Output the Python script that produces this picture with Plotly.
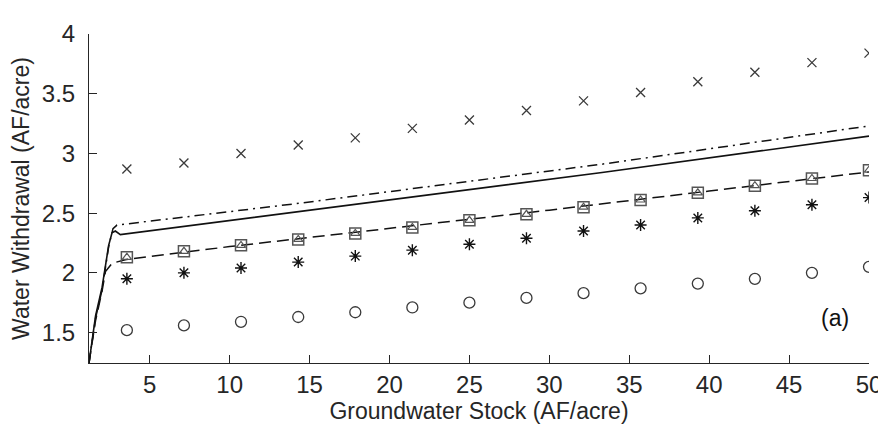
import plotly.graph_objects as go

# ---- data ----
stock = [3.57, 7.14, 10.71, 14.29, 17.86, 21.43, 25.0, 28.57, 32.14, 35.71, 39.29, 42.86, 46.43, 50.0]
cross_vals = [2.87, 2.92, 3.00, 3.07, 3.13, 3.21, 3.28, 3.36, 3.44, 3.51, 3.60, 3.68, 3.76, 3.84]
circle_vals = [1.52, 1.56, 1.59, 1.63, 1.67, 1.71, 1.75, 1.79, 1.83, 1.87, 1.91, 1.95, 2.00, 2.05]
star_vals = [1.95, 2.00, 2.04, 2.09, 2.14, 2.19, 2.24, 2.29, 2.35, 2.40, 2.46, 2.52, 2.57, 2.63]
square_vals = [2.13, 2.18, 2.23, 2.28, 2.33, 2.38, 2.44, 2.49, 2.55, 2.61, 2.67, 2.73, 2.79, 2.86]
triangle_vals = [2.13, 2.18, 2.23, 2.28, 2.33, 2.38, 2.44, 2.49, 2.55, 2.61, 2.67, 2.73, 2.79, 2.86]

solid_x = [1.2, 1.61, 2.02, 2.43, 2.64, 2.85, 3.16, 14.2, 33.3, 50.0]
solid_y = [1.245, 1.64, 1.88, 2.23, 2.335, 2.35, 2.32, 2.51, 2.84, 3.145]
dashdot_x = [1.2, 1.61, 2.02, 2.43, 2.7, 2.95, 14.2, 33.3, 50.0]
dashdot_y = [1.245, 1.62, 1.86, 2.22, 2.37, 2.40, 2.58, 2.91, 3.23]
dashed_x = [1.2, 1.61, 2.02, 2.23, 2.64, 3.47, 10.0, 20.0, 30.0, 40.0, 50.0]
dashed_y = [1.245, 1.60, 1.85, 2.01, 2.08, 2.11, 2.22, 2.37, 2.525, 2.685, 2.845]

x_ticks = [5, 10, 15, 20, 25, 30, 35, 40, 45, 50]
y_ticks = [1.5, 2, 2.5, 3, 3.5, 4]

FONT = "Liberation Sans, Arial, sans-serif"
AX = "#262626"

fig = go.Figure()
fig.add_trace(go.Scatter(x=solid_x, y=solid_y, mode="lines",
                         line=dict(color="#111111", width=1.6)))
fig.add_trace(go.Scatter(x=dashdot_x, y=dashdot_y, mode="lines",
                         line=dict(color="#111111", width=1.5, dash="10px,5px,2px,5px")))
fig.add_trace(go.Scatter(x=dashed_x, y=dashed_y, mode="lines",
                         line=dict(color="#111111", width=1.5, dash="12px,6px")))
fig.add_trace(go.Scatter(x=stock, y=cross_vals, mode="markers",
                         marker=dict(symbol="x-thin-open", size=9, color="#3a3a3a",
                                     line=dict(color="#3a3a3a", width=1.3))))
fig.add_trace(go.Scatter(x=stock, y=circle_vals, mode="markers",
                         marker=dict(symbol="circle-open", size=11, color="#3a3a3a",
                                     line=dict(color="#3a3a3a", width=1.3))))
fig.add_trace(go.Scatter(x=stock, y=star_vals, mode="markers",
                         marker=dict(symbol="asterisk-open", size=10, color="#111111",
                                     line=dict(color="#111111", width=1.4))))
fig.add_trace(go.Scatter(x=stock, y=square_vals, mode="markers",
                         marker=dict(symbol="square-open", size=11, color="#555555",
                                     line=dict(color="#555555", width=1.5))))
fig.add_trace(go.Scatter(x=stock, y=triangle_vals, mode="markers",
                         marker=dict(symbol="triangle-up-open", size=8, color="#555555",
                                     line=dict(color="#555555", width=1.2))))

fig.add_annotation(x=47.9, y=1.62, xref="x", yref="y", text="(a)", showarrow=False,
                   font=dict(family=FONT, size=23, color="#111111"))

fig.update_layout(
    width=886, height=432,
    margin=dict(l=80, r=15, t=14, b=77),
    paper_bgcolor="white", plot_bgcolor="white",
    showlegend=False,
    font=dict(family=FONT, size=23, color=AX),
    xaxis=dict(range=[1.2, 50], tickvals=x_ticks, ticks="inside", ticklen=8, tickcolor=AX,
               showline=True, linecolor=AX, linewidth=1, showgrid=False, zeroline=False,
               tickfont=dict(size=24, color=AX),
               title=dict(text="Groundwater Stock (AF/acre)", font=dict(size=23, color=AX), standoff=6)),
    yaxis=dict(range=[1.245, 4], tickvals=y_ticks, ticks="inside", ticklen=8, tickcolor=AX,
               showline=True, linecolor=AX, linewidth=1, showgrid=False, zeroline=False,
               tickfont=dict(size=24, color=AX), ticklabelstandoff=8,
               title=dict(text="Water Withdrawal (AF/acre)", font=dict(size=23, color=AX), standoff=6)),
)

fig.write_html("out.html")
